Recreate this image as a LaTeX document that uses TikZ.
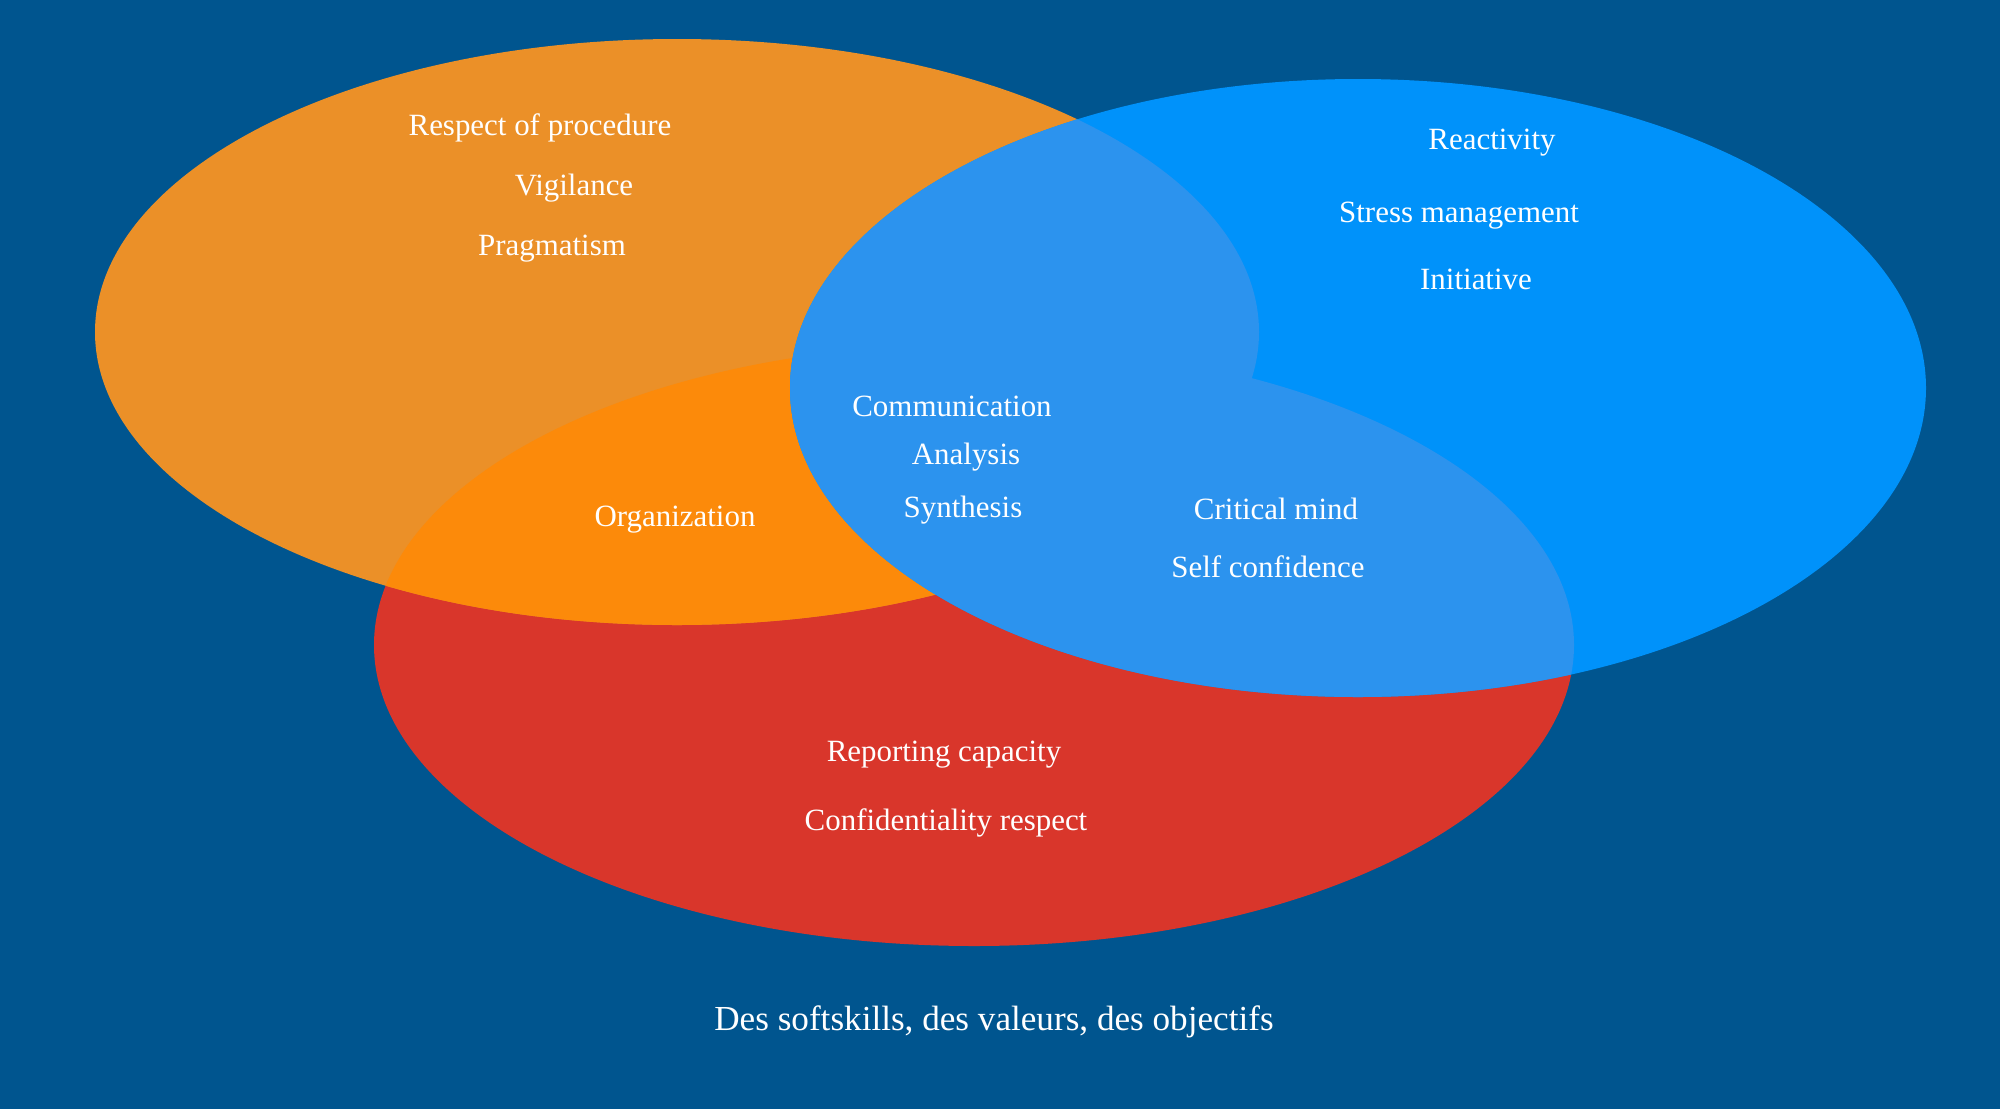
\documentclass[tikz,border=0pt]{standalone}
\usepackage{fontspec}
\setmainfont{Liberation Serif}
\definecolor{bg}{HTML}{00558F}
\definecolor{orA}{HTML}{EB9028}
\definecolor{orB}{HTML}{FC8A0A}
\definecolor{rdA}{HTML}{D9362B}
\definecolor{blA}{HTML}{0092FA}
\definecolor{blB}{HTML}{2C93EE}
\begin{document}
\begin{tikzpicture}[x=0.05cm,y=-0.05cm,
  lbl/.style={text=white,font=\fontsize{44}{52}\selectfont,inner sep=0pt}]
\fill[bg] (0,0) rectangle (2000,1109);
\useasboundingbox (0,0) rectangle (2000,1109);
\def\orE{(677,332) ellipse [x radius=582,y radius=293]}
\def\blE{(1358,388) ellipse [x radius=568,y radius=309]}
\def\rdE{(974,645) ellipse [x radius=600,y radius=301]}
\fill[rdA] \rdE;
\fill[orA] \orE;
\begin{scope}\clip \orE; \fill[orB] \rdE; \end{scope}
\fill[blA] \blE;
\begin{scope}\clip \blE; \fill[blB] \orE; \fill[blB] \rdE; \end{scope}
\node[lbl] (a1) at (540,128) {Respect of procedure};
\node[lbl] (a2) at (574,188) {Vigilance};
\node[lbl] (a3) at (552,249) {Pragmatism};
\node[lbl] (b1) at (1492,143) {Reactivity};
\node[lbl] (b2) at (1459,216) {Stress management};
\node[lbl] (b3) at (1476,279) {Initiative};
\node[lbl] (c1) at (952,406) {Communication};
\node[lbl] (c2) at (966,457) {Analysis};
\node[lbl] (c3) at (963,510) {Synthesis};
\node[lbl] (d1) at (675,520) {Organization};
\node[lbl] (e1) at (1276,509) {Critical mind};
\node[lbl] (e2) at (1268,567) {Self confidence};
\node[lbl] (f1) at (944,755) {Reporting capacity};
\node[lbl] (f2) at (946,823) {Confidentiality respect};
\node[lbl,font=\fontsize{50}{60}\selectfont] (cap) at (994,1022) {Des softskills, des valeurs, des objectifs};
\end{tikzpicture}
\end{document}
